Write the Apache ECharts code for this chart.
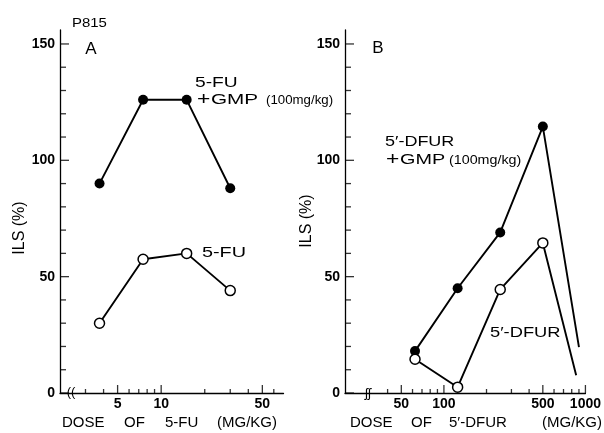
<!DOCTYPE html>
<html>
<head>
<meta charset="utf-8">
<script src="https://cdn.jsdelivr.net/npm/echarts@6/dist/echarts.min.js"></script>
<style>
html,body{margin:0;padding:0;background:#fff;}
#chart{width:604px;height:433px;}
</style>
</head>
<body>
<div id="chart"></div>
<script>
// ---- Data ----
// Panel A: 5-FU dose (mg/kg) and ILS (%)
const doseA = [3.75, 7.5, 15, 30];
const ilsFuGmp = [90, 126, 126, 88];
const ilsFu = [30, 57.5, 60, 44];
// Panel B: 5'-DFUR dose (mg/kg) and ILS (%)
const doseB = [62.5, 125, 250, 500];
const ilsDfurGmp = [18, 45, 69, 114.5];
const ilsDfur = [14.5, 2.5, 44.5, 64.5];
// toxic tails (line continues without marker)
const tailDoseGmp = 900, tailIlsGmp = 19.7;
const tailDoseDfur = 860, tailIlsDfur = 7.6;
// Axis ranges
const xRangeA = [2, 70];
const xRangeB = [20, 1000];
const yRange = [0, 156];
// Tick values
const yMajor = [0, 50, 100, 150];
const yMinor = [10, 20, 30, 40, 60, 70, 80, 90, 110, 120, 130, 140];
const xMajorA = [5, 10, 50];
const xMinorA = [3, 4, 6, 7, 8, 9, 20, 30, 40, 60];
const xMajorB = [50, 100, 500, 1000];
const xMinorB = [40, 60, 70, 80, 90, 200, 300, 400, 600, 700, 800, 900];

const chart = echarts.init(document.getElementById('chart'), null, {renderer: 'canvas'});
const TICKFONT = '"Liberation Sans","DejaVu Sans",sans-serif';
const FONT = '"Liberation Sans","DejaVu Sans",sans-serif';

function xAxis(grid, range, major) {
  return {type: 'log', logBase: 10, gridIndex: grid, min: range[0], max: range[1], position: 'bottom',
    splitLine: {show: false},
    axisLine: {show: true, onZero: false, lineStyle: {color: '#000', width: 1.3}},
    axisTick: {show: false},
    axisLabel: {show: true, customValues: major, margin: 4, color: '#000', fontSize: 14,
                fontFamily: TICKFONT, fontWeight: 'bold', formatter: v => String(v)}};
}
function yAxis(grid) {
  return {type: 'value', gridIndex: grid, min: yRange[0], max: yRange[1], position: 'left',
    splitLine: {show: false},
    axisLine: {show: true, onZero: false, lineStyle: {color: '#000', width: 1.3}},
    axisTick: {show: false},
    axisLabel: {show: true, customValues: yMajor, margin: 5, color: '#000', fontSize: 14,
                fontFamily: TICKFONT, fontWeight: 'bold'}};
}
// tick marks drawn through the axes' own scales
function xTicks(axis, values, len) {
  return {type: 'scatter', xAxisIndex: axis, yAxisIndex: axis, silent: true, clip: false, z: 1,
    data: values.map(v => [v, yRange[0]]), symbol: 'rect', symbolSize: [1.3, len], symbolOffset: [0, -len / 2],
    itemStyle: {color: '#000'}};
}
function yTicks(axis, xmin, values, len) {
  return {type: 'scatter', xAxisIndex: axis, yAxisIndex: axis, silent: true, clip: false, z: 1,
    data: values.map(v => [xmin, v]), symbol: 'rect', symbolSize: [len, 1.3], symbolOffset: [len / 2, 0],
    itemStyle: {color: '#000'}};
}

const filled = {symbol: 'circle', symbolSize: 10, itemStyle: {color: '#000'}, lineStyle: {color: '#000', width: 1.9}};
const open = {symbol: 'circle', symbolSize: 10, itemStyle: {color: '#fff', borderColor: '#000', borderWidth: 1.5}, lineStyle: {color: '#000', width: 1.9}};
function pts(xs, ys) { return xs.map((x, i) => [x, ys[i]]); }

function txt(x, y, text, size, opts) {
  const o = opts || {};
  return {type: 'text', x: x, y: y, scaleX: o.sx || 1, rotation: o.rot || 0,
          style: {text: text, font: (o.weight ? o.weight + ' ' : '') + size + 'px ' + FONT, fill: '#000',
                  align: o.align || 'left', verticalAlign: 'middle'}};
}

const option = {
  animation: false,
  backgroundColor: '#fff',
  grid: [
    {left: 60, top: 30, width: 223.5, height: 363},
    {left: 345, top: 30, width: 244, height: 363}
  ],
  xAxis: [xAxis(0, xRangeA, xMajorA), xAxis(1, xRangeB, xMajorB)],
  yAxis: [yAxis(0), yAxis(1)],
  series: [
    xTicks(0, xMajorA, 8), xTicks(0, xMinorA, 4),
    xTicks(1, xMajorB, 8), xTicks(1, xMinorB, 4),
    yTicks(0, xRangeA[0], yMajor, 9), yTicks(0, xRangeA[0], yMinor, 6),
    yTicks(1, xRangeB[0], yMajor, 9), yTicks(1, xRangeB[0], yMinor, 6),
    Object.assign({type: 'line', xAxisIndex: 0, yAxisIndex: 0, data: pts(doseA, ilsFuGmp), z: 3}, filled),
    Object.assign({type: 'line', xAxisIndex: 0, yAxisIndex: 0, data: pts(doseA, ilsFu), z: 3}, open),
    Object.assign({type: 'line', xAxisIndex: 1, yAxisIndex: 1,
      data: pts(doseB, ilsDfurGmp).concat([{value: [tailDoseGmp, tailIlsGmp], symbol: 'none'}]), z: 3}, filled),
    Object.assign({type: 'line', xAxisIndex: 1, yAxisIndex: 1,
      data: pts(doseB, ilsDfur).concat([{value: [tailDoseDfur, tailIlsDfur], symbol: 'none'}]), z: 3}, open)
  ],
  graphic: [
    txt(72, 23, 'P815', 13, {sx: 1.15}),
    txt(91, 49, 'A', 17, {align: 'center'}),
    txt(378, 48, 'B', 17, {align: 'center'}),
    // y titles
    txt(20, 228, 'ILS (%)', 16, {align: 'center', rot: Math.PI / 2}),
    txt(307, 221, 'ILS (%)', 16, {align: 'center', rot: Math.PI / 2}),
    // x titles
    txt(62, 423, 'DOSE', 15), txt(124, 423, 'OF', 15), txt(165, 423, '5-FU', 15), txt(217, 423, '(MG/KG)', 15),
    txt(350, 423, 'DOSE', 15), txt(411, 423, 'OF', 15), txt(449, 423, '5\u2032-DFUR', 15), txt(602, 423, '(MG/KG)', 15, {align: 'right'}),
    // axis break marks
    txt(71, 392, '((', 13, {align: 'center'}),
    txt(368, 393, '\u0283\u0283', 13, {align: 'center'}),
    // series labels
    txt(195, 83, '5-FU', 15, {sx: 1.28}),
    txt(197, 100, '+', 19, {sx: 1.2}),
    txt(211, 100, 'GMP', 15, {sx: 1.38}),
    txt(266, 100, '(100mg/kg)', 13, {sx: 1.02}),
    txt(202, 253, '5-FU', 15, {sx: 1.32}),
    txt(385, 142, '5\u2032-DFUR', 15, {sx: 1.2}),
    txt(386, 160, '+', 19, {sx: 1.2}),
    txt(400, 160, 'GMP', 15, {sx: 1.32}),
    txt(449, 160, '(100mg/kg)', 13, {sx: 1.1}),
    txt(490, 333, '5\u2032-DFUR', 15, {sx: 1.22})
  ]
};
chart.setOption(option);
</script>
</body>
</html>
